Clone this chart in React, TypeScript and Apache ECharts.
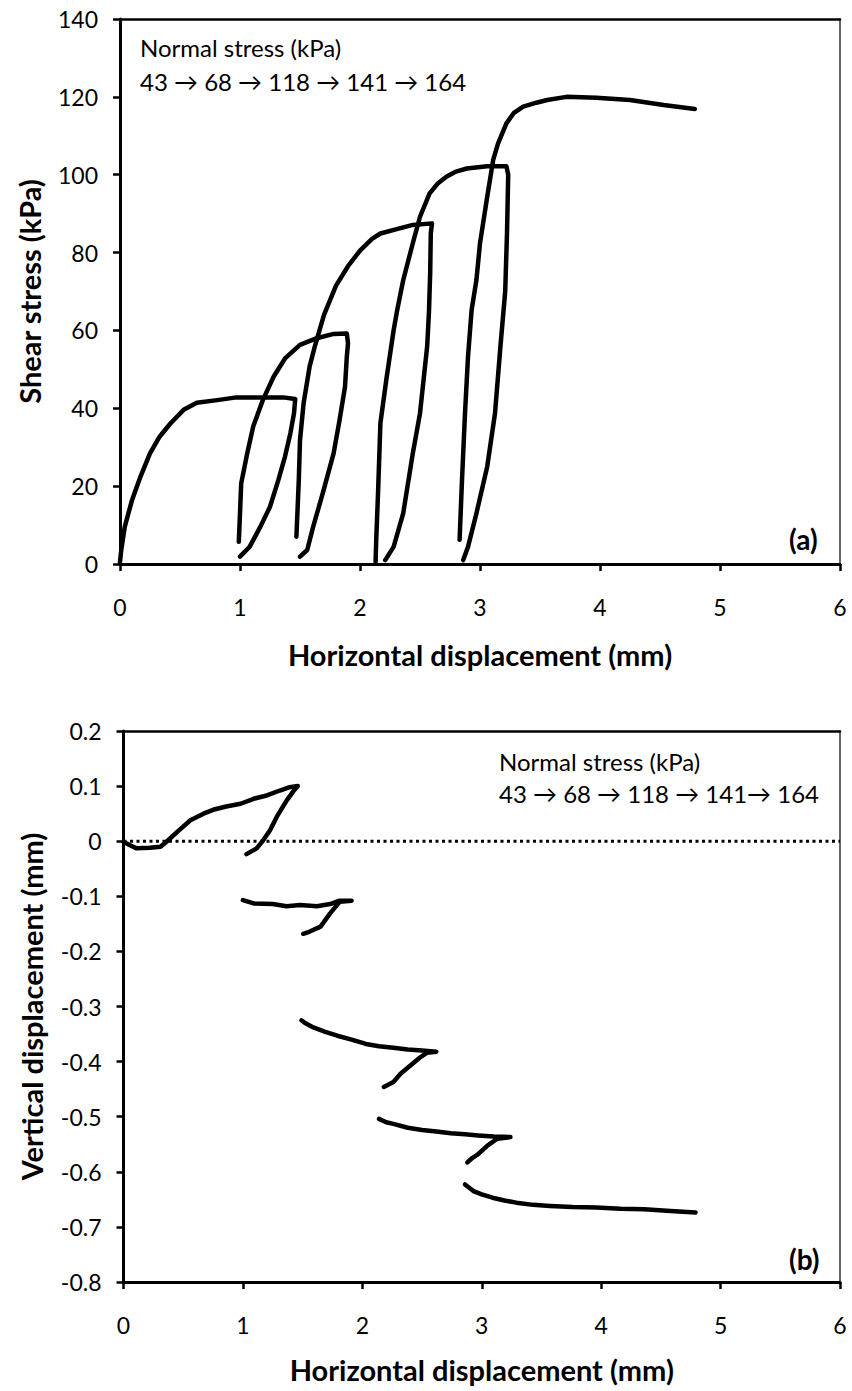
import React, { useEffect, useRef } from "react";
import * as echarts from "echarts";

// ---- Panel (a): shear stress (kPa) vs horizontal displacement (mm), one run per normal-stress stage
const A_S1_X = [0, 0.01, 0.04, 0.10, 0.17, 0.25, 0.33, 0.42, 0.53, 0.64, 0.81, 0.97, 1.14, 1.36, 1.46, 1.45, 1.42, 1.375, 1.32, 1.25, 1.17, 1.08, 1.0];
const A_S1_Y = [0.5, 3.5, 9.6, 16.4, 22.4, 28.4, 32.7, 36.1, 39.6, 41.4, 42.1, 42.8, 42.8, 42.8, 42.4, 38.7, 33.6, 27.6, 21.6, 14.7, 9.6, 4.4, 1.9];

const A_S2_X = [0.99, 1.0, 1.01, 1.06, 1.11, 1.19, 1.28, 1.375, 1.5, 1.64, 1.78, 1.89, 1.9, 1.89, 1.875, 1.83, 1.78, 1.69, 1.61, 1.56, 1.5];
const A_S2_Y = [5.7, 13.0, 20.7, 28.4, 35.3, 42.1, 48.1, 52.8, 56.3, 58.0, 59.1, 59.2, 56.7, 53.2, 45.5, 37.0, 28.4, 18.2, 9.6, 3.6, 1.9];

const A_S3_X = [1.47, 1.49, 1.5, 1.53, 1.58, 1.62, 1.7, 1.8, 1.9, 2.0, 2.1, 2.17, 2.33, 2.44, 2.6, 2.59, 2.585, 2.575, 2.56, 2.5, 2.44, 2.36, 2.28, 2.21];
const A_S3_Y = [7.0, 21.6, 31.8, 41.3, 50.7, 55.5, 64.0, 71.5, 76.5, 80.5, 83.5, 84.9, 86.2, 87.1, 87.5, 85.0, 75.0, 65.0, 56.0, 38.7, 28.4, 13.0, 4.4, 1.0];

const A_S4_X = [2.13, 2.135, 2.15, 2.16, 2.17, 2.22, 2.28, 2.31, 2.36, 2.44, 2.5, 2.58, 2.65, 2.72, 2.8, 2.89, 3.06, 3.22, 3.235, 3.225, 3.21, 3.17, 3.125, 3.06, 2.97, 2.9, 2.86];
const A_S4_Y = [0.5, 6.0, 18.0, 27.0, 36.2, 47.5, 60.0, 65.2, 72.9, 82.4, 89.2, 95.2, 97.8, 99.5, 100.8, 101.6, 102.2, 102.2, 100.0, 85.0, 70.0, 55.8, 38.7, 25.0, 13.0, 4.4, 1.0];

const A_S5_X = [2.83, 2.85, 2.875, 2.9, 2.93, 2.97, 3.0, 3.06, 3.11, 3.15, 3.22, 3.28, 3.36, 3.47, 3.56, 3.72, 3.97, 4.25, 4.53, 4.79];
const A_S5_Y = [6.2, 21.6, 38.7, 53.2, 65.2, 72.9, 82.4, 94.3, 103.8, 108.0, 113.2, 115.8, 117.5, 118.5, 119.2, 120.0, 119.8, 119.2, 117.9, 116.9];

// ---- Panel (b): vertical displacement (mm) vs horizontal displacement (mm)
const B_S1_X = [0, 0.05, 0.11, 0.22, 0.31, 0.36, 0.45, 0.56, 0.67, 0.75, 0.86, 0.98, 1.09, 1.2, 1.31, 1.39, 1.46, 1.42, 1.367, 1.283, 1.227, 1.171, 1.115, 1.03];
const B_S1_Y = [-0.001, -0.007, -0.013, -0.012, -0.01, -0.001, 0.017, 0.038, 0.05, 0.057, 0.063, 0.068, 0.077, 0.083, 0.092, 0.098, 0.1, 0.09, 0.074, 0.044, 0.02, 0.002, -0.013, -0.0235];

const B_S2_X = [1.0, 1.09, 1.25, 1.365, 1.48, 1.62, 1.73, 1.81, 1.91, 1.81, 1.73, 1.65, 1.56, 1.505];
const B_S2_Y = [-0.107, -0.113, -0.114, -0.118, -0.116, -0.118, -0.114, -0.108, -0.108, -0.11, -0.131, -0.155, -0.164, -0.168];

const B_S3_X = [1.49, 1.52, 1.59, 1.69, 1.79, 1.91, 2.03, 2.14, 2.26, 2.38, 2.5, 2.62, 2.54, 2.48, 2.42, 2.37, 2.32, 2.26, 2.18];
const B_S3_Y = [-0.325, -0.33, -0.338, -0.346, -0.353, -0.36, -0.368, -0.372, -0.375, -0.378, -0.38, -0.382, -0.384, -0.393, -0.404, -0.413, -0.422, -0.437, -0.446];

const B_S4_X = [2.14, 2.2, 2.26, 2.38, 2.5, 2.62, 2.74, 2.86, 2.97, 3.1, 3.24, 3.13, 3.05, 2.97, 2.92, 2.88];
const B_S4_Y = [-0.504, -0.51, -0.513, -0.52, -0.524, -0.527, -0.53, -0.532, -0.534, -0.536, -0.537, -0.54, -0.552, -0.568, -0.575, -0.583];

const B_S5_X = [2.86, 2.93, 3.0, 3.09, 3.19, 3.29, 3.43, 3.57, 3.76, 3.96, 4.16, 4.36, 4.58, 4.79];
const B_S5_Y = [-0.623, -0.635, -0.641, -0.647, -0.652, -0.656, -0.66, -0.662, -0.664, -0.665, -0.667, -0.668, -0.671, -0.674];

// zero reference line across panel (b)
const ZERO_X = [0, 6];
const ZERO_Y = [0, 0];

const NOTE_TITLE = "Normal stress (kPa)";
const NOTE_A = "43 \u2192 68 \u2192 118 \u2192 141 \u2192 164";
const NOTE_B = "43 \u2192 68 \u2192 118 \u2192 141\u2192 164";

const FONT = "Lato, 'DejaVu Sans', sans-serif";

const zip = (xs: number[], ys: number[]) => xs.map((x, i) => [x, ys[i]]);

export default function App() {
  const ref = useRef<HTMLDivElement>(null);

  useEffect(() => {
    if (!ref.current) return;
    const chart = echarts.init(ref.current, undefined, { renderer: "svg" });

    const stageLine = (xs: number[], ys: number[], grid: number) => ({
      type: "line",
      xAxisIndex: grid * 2,
      yAxisIndex: grid * 2,
      data: zip(xs, ys),
      showSymbol: false,
      silent: true,
      lineStyle: { color: "#000", width: 4.5, cap: "round", join: "round" },
    });

    const bottomX = (grid: number, nameGap: number, nameSize: number) => ({
      type: "value",
      gridIndex: grid,
      position: "bottom",
      min: 0,
      max: 6,
      interval: 1,
      name: "Horizontal displacement (mm)",
      nameLocation: "middle",
      nameGap,
      nameTextStyle: { fontFamily: FONT, fontWeight: "bold", fontSize: nameSize, color: "#000" },
      axisLine: { show: true, onZero: false, lineStyle: { color: "#000", width: 3 } },
      axisTick: { show: true, inside: false, length: 7, lineStyle: { color: "#000", width: 2.5 } },
      axisLabel: { fontFamily: FONT, fontSize: 23, color: "#000", margin: 31 },
      splitLine: { show: false },
    });

    const topX = (grid: number) => ({
      type: "value",
      gridIndex: grid,
      position: "top",
      min: 0,
      max: 6,
      interval: 1,
      axisLine: { show: true, onZero: false, lineStyle: { color: "#000", width: 2.5 } },
      axisTick: { show: false },
      axisLabel: { show: false },
      splitLine: { show: false },
    });

    const leftY = (grid: number, name: string, min: number, max: number, interval: number, nameGap: number) => ({
      type: "value",
      gridIndex: grid,
      position: "left",
      min,
      max,
      interval,
      name,
      nameLocation: "middle",
      nameGap,
      nameTextStyle: { fontFamily: FONT, fontWeight: "bold", fontSize: 29, color: "#000" },
      axisLine: { show: true, onZero: false, lineStyle: { color: "#000", width: 3 } },
      axisTick: { show: true, inside: false, length: 7, lineStyle: { color: "#000", width: 2.5 } },
      axisLabel: { fontFamily: FONT, fontSize: 23, color: "#000", margin: 22 },
      splitLine: { show: false },
    });

    const rightY = (grid: number, min: number, max: number, interval: number) => ({
      type: "value",
      gridIndex: grid,
      position: "right",
      min,
      max,
      interval,
      axisLine: { show: true, onZero: false, lineStyle: { color: "#333", width: 1.5 } },
      axisTick: { show: false },
      axisLabel: { show: false },
      splitLine: { show: false },
    });

    chart.setOption({
      animation: false,
      backgroundColor: "#fff",
      grid: [
        { left: 120, top: 19, width: 720, height: 545 },
        { left: 123.5, top: 731, width: 716.5, height: 551 },
      ],
      xAxis: [bottomX(0, 76, 29), topX(0), bottomX(1, 73, 29), topX(1)],
      yAxis: [
        leftY(0, "Shear stress (kPa)", 0, 140, 20, 76),
        rightY(0, 0, 140, 20),
        leftY(1, "Vertical displacement (mm)", -0.8, 0.2, 0.1, 78),
        rightY(1, -0.8, 0.2, 0.1),
      ],
      series: [
        stageLine(A_S1_X, A_S1_Y, 0),
        stageLine(A_S2_X, A_S2_Y, 0),
        stageLine(A_S3_X, A_S3_Y, 0),
        stageLine(A_S4_X, A_S4_Y, 0),
        stageLine(A_S5_X, A_S5_Y, 0),
        {
          type: "line",
          xAxisIndex: 2,
          yAxisIndex: 2,
          data: zip(ZERO_X, ZERO_Y),
          showSymbol: false,
          silent: true,
          lineStyle: { color: "#000", width: 3, type: [3, 3.5], cap: "butt" },
        },
        stageLine(B_S1_X, B_S1_Y, 1),
        stageLine(B_S2_X, B_S2_Y, 1),
        stageLine(B_S3_X, B_S3_Y, 1),
        stageLine(B_S4_X, B_S4_Y, 1),
        stageLine(B_S5_X, B_S5_Y, 1),
      ],
      graphic: [
        { type: "text", left: 140, top: 35, style: { text: NOTE_TITLE, font: `24px ${FONT}`, fill: "#000" } },
        { type: "text", left: 140, top: 69, style: { text: NOTE_A, font: `24px ${FONT}`, fill: "#000" } },
        { type: "text", left: 499, top: 749, style: { text: NOTE_TITLE, font: `24px ${FONT}`, fill: "#000" } },
        { type: "text", left: 499, top: 781, style: { text: NOTE_B, font: `24px ${FONT}`, fill: "#000" } },
        { type: "text", left: 789, top: 525, style: { text: "(a)", font: `bold 28px ${FONT}`, fill: "#000" } },
        { type: "text", left: 789, top: 1245, style: { text: "(b)", font: `bold 28px ${FONT}`, fill: "#000" } },
      ],
    });

    return () => chart.dispose();
  }, []);

  return (
    <div
      ref={ref}
      style={{ position: "absolute", left: 0, top: 0, width: 852, height: 1391, background: "#fff" }}
    />
  );
}
